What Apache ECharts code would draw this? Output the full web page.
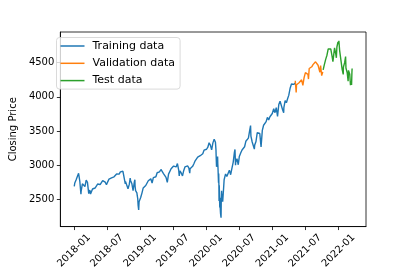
<!DOCTYPE html>
<html>
<head>
<meta charset="utf-8">
<script src="https://cdn.jsdelivr.net/npm/echarts@6/dist/echarts.min.js"></script>
<style>
html,body{margin:0;padding:0;background:#fff;}
#chart{width:407px;height:271px;}
</style>
</head>
<body>
<div id="chart"></div>
<script>
const trainDates = ["2018-01-02","2018-01-05","2018-01-12","2018-01-19","2018-01-26","2018-02-02","2018-02-08","2018-02-09","2018-02-16","2018-02-23","2018-03-02","2018-03-09","2018-03-16","2018-03-23","2018-03-29","2018-04-02","2018-04-06","2018-04-13","2018-04-20","2018-04-27","2018-05-04","2018-05-11","2018-05-18","2018-05-25","2018-06-01","2018-06-08","2018-06-15","2018-06-22","2018-06-29","2018-07-06","2018-07-13","2018-07-20","2018-07-27","2018-08-03","2018-08-10","2018-08-17","2018-08-24","2018-08-31","2018-09-07","2018-09-14","2018-09-20","2018-09-28","2018-10-05","2018-10-11","2018-10-12","2018-10-19","2018-10-26","2018-10-29","2018-11-02","2018-11-07","2018-11-09","2018-11-16","2018-11-23","2018-11-30",
"2018-12-03","2018-12-04","2018-12-07","2018-12-10","2018-12-14","2018-12-17","2018-12-19","2018-12-21","2018-12-24","2018-12-26","2018-12-28",
"2019-01-03","2019-01-04","2019-01-11","2019-01-18","2019-01-25","2019-02-01","2019-02-08","2019-02-15","2019-02-22","2019-03-01","2019-03-08","2019-03-15","2019-03-22","2019-03-29","2019-04-05","2019-04-12","2019-04-18","2019-04-26","2019-05-03","2019-05-10","2019-05-17","2019-05-24","2019-05-31","2019-06-03","2019-06-07","2019-06-14","2019-06-21","2019-06-28","2019-07-05","2019-07-12","2019-07-19","2019-07-26","2019-08-02","2019-08-05","2019-08-09","2019-08-16","2019-08-23","2019-08-30","2019-09-06","2019-09-13","2019-09-20","2019-09-27","2019-10-02","2019-10-04","2019-10-11","2019-10-18","2019-10-25","2019-11-01","2019-11-08","2019-11-15","2019-11-22","2019-11-29","2019-12-06","2019-12-13","2019-12-20","2019-12-27",
"2020-01-03","2020-01-10","2020-01-17","2020-01-24","2020-01-31","2020-02-07","2020-02-14",
"2020-02-19","2020-02-21","2020-02-24","2020-02-25","2020-02-27","2020-02-28","2020-03-02","2020-03-03","2020-03-04","2020-03-05","2020-03-06","2020-03-09","2020-03-10","2020-03-11","2020-03-12","2020-03-13","2020-03-16","2020-03-17","2020-03-18","2020-03-19","2020-03-20","2020-03-23","2020-03-24","2020-03-26","2020-03-27","2020-03-31","2020-04-01","2020-04-03","2020-04-06","2020-04-09",
"2020-04-17","2020-04-24","2020-05-01","2020-05-08","2020-05-15","2020-05-22","2020-05-29","2020-06-05","2020-06-08","2020-06-11","2020-06-12","2020-06-19","2020-06-26","2020-07-02","2020-07-10","2020-07-17","2020-07-24","2020-07-31","2020-08-07","2020-08-14","2020-08-21","2020-08-28","2020-09-02","2020-09-04","2020-09-11","2020-09-18","2020-09-23","2020-09-25","2020-10-02","2020-10-09","2020-10-16","2020-10-23","2020-10-30","2020-11-06","2020-11-13","2020-11-20","2020-11-27","2020-12-04","2020-12-11","2020-12-18","2020-12-24","2020-12-31",
"2021-01-08","2021-01-15","2021-01-22","2021-01-29","2021-02-05","2021-02-12","2021-02-19","2021-02-26","2021-03-04","2021-03-05","2021-03-12","2021-03-19","2021-03-26","2021-04-01","2021-04-09","2021-04-16","2021-04-23","2021-04-30","2021-05-06"];
const trainClose = [2695,2743,2786,2810,2885,2762,2581,2620,2732,2747,2691,2786,2752,2588,2641,2582,2604,2656,2670,2670,2663,2728,2713,2721,2735,2779,2780,2755,2718,2760,2801,2802,2819,2840,2833,2850,2875,2902,2872,2905,2931,2914,2886,2729,2767,2768,2659,2641,2723,2814,2781,2736,2633,2760,
2790,2700,2633,2637,2600,2546,2507,2417,2351,2468,2486,
2448,2532,2596,2671,2665,2707,2708,2776,2793,2804,2743,2822,2800,2834,2893,2907,2905,2940,2946,2881,2860,2826,2752,2744,2873,2887,2950,2942,2990,3014,2977,3026,2932,2845,2919,2889,2847,2926,2979,3007,2992,2962,2887,2952,2970,2986,3023,3067,3093,3120,3110,3141,3146,3169,3221,3240,
3235,3265,3330,3295,3226,3328,3380,
3400,3338,3226,3128,2979,2954,3090,3003,3130,3023,2972,2747,2882,2741,2481,2711,2386,2529,2398,2409,2305,2237,2447,2630,2541,2585,2471,2489,2664,2790,
2875,2837,2831,2930,2864,2955,3044,3194,3232,3002,3041,3098,3009,3130,3185,3225,3216,3271,3351,3373,3397,3508,3580,3427,3341,3319,3237,3298,3348,3477,3484,3465,3270,3510,3585,3558,3638,3699,3663,3709,3703,3756,
3825,3768,3841,3714,3887,3934,3907,3811,3768,3842,3943,3913,3975,4020,4129,4185,4180,4181,4201];
const valDates = ["2021-05-07","2021-05-12","2021-05-14","2021-05-21","2021-05-28","2021-06-04","2021-06-11","2021-06-18","2021-06-25","2021-07-02","2021-07-09","2021-07-16","2021-07-19","2021-07-23","2021-07-30","2021-08-06","2021-08-13","2021-08-20","2021-08-27","2021-09-02","2021-09-10","2021-09-17","2021-09-20","2021-09-24","2021-09-30","2021-10-04","2021-10-06"];
const valClose = [4233,4063,4174,4156,4204,4230,4247,4166,4281,4352,4370,4327,4258,4412,4395,4437,4468,4442,4509,4537,4459,4433,4358,4455,4308,4300,4363];
const testDates = ["2021-10-08","2021-10-15","2021-10-22","2021-10-29","2021-11-05","2021-11-12","2021-11-19","2021-11-26","2021-12-01","2021-12-03","2021-12-10","2021-12-17","2021-12-20","2021-12-23","2021-12-29","2021-12-31","2022-01-03","2022-01-07","2022-01-14","2022-01-21","2022-01-27","2022-01-28","2022-02-04","2022-02-09","2022-02-11","2022-02-18","2022-02-23","2022-02-24","2022-02-25","2022-03-04","2022-03-08","2022-03-11","2022-03-14","2022-03-15","2022-03-16","2022-03-17"];
const testClose = [4391,4471,4545,4605,4697,4682,4698,4595,4513,4538,4712,4620,4568,4725,4800,4766,4815,4677,4663,4398,4326,4432,4501,4587,4419,4349,4226,4288,4385,4329,4170,4204,4173,4262,4357,4412];
const yTicks = [2500,3000,3500,4000,4500];
const xTickLabels = ["2018-01","2018-07","2019-01","2019-07","2020-01","2020-07","2021-01","2021-07","2022-01"];
const seriesNames = ["Training data","Validation data","Test data"];
const colors = ["#1f77b4","#ff7f0e","#2ca02c"];

const toTs = s => Date.parse(s + "T00:00:00Z");
const pairs = (d, v) => d.map((s, i) => [toTs(s), v[i]]);
const allT = [...trainDates, ...valDates, ...testDates].map(toTs);
const allV = [...trainClose, ...valClose, ...testClose];
const tMin = Math.min(...allT), tMax = Math.max(...allT);
const vMin = Math.min(...allV), vMax = Math.max(...allV);
const tPad = (tMax - tMin) * 0.05, vPad = (vMax - vMin) * 0.05;
const xTickVals = xTickLabels.map(s => toTs(s + "-01"));

const font = "DejaVu Sans";
const chart = echarts.init(document.getElementById('chart'), null, {renderer: 'canvas'});
const mk = (name, data, color) => ({
  name, type: 'line', data, showSymbol: false, symbol: 'none',
  lineStyle: {color, width: 1.4}, itemStyle: {color}, animation: false
});
chart.setOption({
  animation: false,
  backgroundColor: '#fff',
  grid: {left: 50, top: 32, width: 316, height: 205, show: true, borderColor: '#000', borderWidth: 0.8, containLabel: false},
  legend: {
    orient: 'vertical', left: 56.5, top: 37.5,
    padding: [2, 5, 2, 4], itemGap: 4.3, itemWidth: 24, itemHeight: 1.5,
    icon: 'rect',
    backgroundColor: 'rgba(255,255,255,0.8)', borderColor: '#d0d0d0', borderWidth: 0.8, borderRadius: 3,
    textStyle: {fontFamily: font, fontSize: 11, color: '#000', lineHeight: 13, padding: [0, 0, 0, 3]},
    data: seriesNames.map((n, i) => ({name: n, itemStyle: {color: colors[i]}}))
  },
  xAxis: {
    type: 'value', min: tMin - tPad, max: tMax + tPad,
    splitLine: {show: false},
    axisLine: {show: true, onZero: false, lineStyle: {color: '#000', width: 0.8}},
    axisTick: {show: true, length: 3.5, lineStyle: {color: '#000', width: 0.8}, customValues: xTickVals},
    axisLabel: {
      customValues: xTickVals, rotate: 45, align: 'center', verticalAlign: 'middle', margin: 24,
      fontFamily: font, fontSize: 10, color: '#000',
      formatter: v => { const i = xTickVals.indexOf(v); return i >= 0 ? xTickLabels[i] : ''; }
    }
  },
  yAxis: {
    type: 'value', min: vMin - vPad, max: vMax + vPad,
    name: 'Closing Price', nameLocation: 'middle', nameRotate: 90, nameGap: 33,
    nameTextStyle: {fontFamily: font, fontSize: 10, color: '#000'},
    splitLine: {show: false},
    axisLine: {show: true, lineStyle: {color: '#000', width: 0.8}},
    axisTick: {show: true, length: 3.5, lineStyle: {color: '#000', width: 0.8}, customValues: yTicks},
    axisLabel: {customValues: yTicks, margin: 6, fontFamily: font, fontSize: 10, color: '#000',
      formatter: v => String(v)}
  },
  series: [
    mk(seriesNames[0], pairs(trainDates, trainClose), colors[0]),
    mk(seriesNames[1], pairs(valDates, valClose), colors[1]),
    mk(seriesNames[2], pairs(testDates, testClose), colors[2])
  ]
});
</script>
</body>
</html>
